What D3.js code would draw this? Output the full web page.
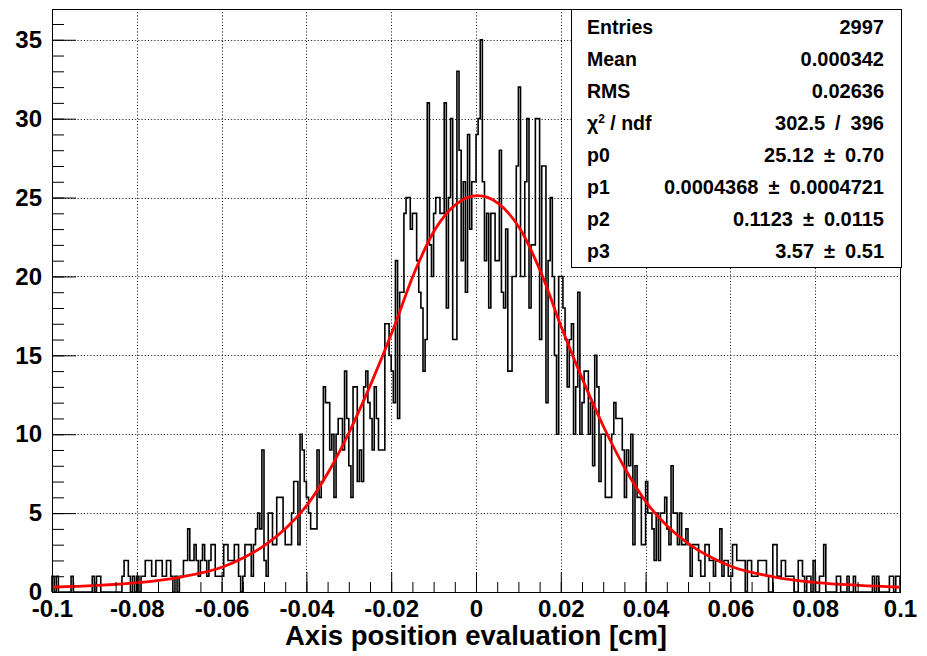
<!DOCTYPE html>
<html>
<head>
<meta charset="utf-8">
<script src="https://cdn.jsdelivr.net/npm/d3@7"></script>
<style>
  body { margin: 0; background: #fff; }
  svg { display: block; }
  text { font-family: "Liberation Sans", Arial, Helvetica, sans-serif; font-weight: bold; fill: #000; }
</style>
</head>
<body>
<svg id="chart" width="927" height="656"></svg>
<script>
// Histogram contents: 400 bins from -0.1 to 0.1 cm (bin width 0.0005)
const counts = [
  1,0,1,0,0,0,0,0,0,1,
  0,0,0,0,0,0,0,0,0,1,
  0,1,1,0,0,0,0,0,0,0,
  0,0,0,1,2,2,1,0,1,0,
  1,0,1,1,2,2,2,1,1,2,
  2,2,1,1,2,2,1,0,1,0,
  1,1,2,2,4,2,2,3,2,1,
  2,3,2,1,2,3,3,1,1,1,
  1,3,3,2,2,2,3,3,1,0,
  1,3,3,3,1,3,4,5,4,9,
  2,1,5,5,3,3,6,6,6,4,
  3,3,3,5,7,7,3,10,9,7,
  6,5,4,4,4,9,6,7,13,12,
  12,9,10,6,10,11,11,9,14,11,
  8,6,13,13,7,9,7,13,14,12,
  11,9,13,11,9,9,9,17,17,15,
  14,12,21,11,19,19,24,25,25,23,
  24,24,21,19,18,14,16,31,22,20,
  24,25,25,24,24,31,18,25,30,16,
  16,33,28,21,26,19,29,23,26,26,
  29,30,35,26,21,24,18,24,24,21,
  21,28,19,18,23,14,14,20,20,27,
  32,20,20,26,30,18,22,22,30,30,
  16,27,27,12,21,25,20,15,10,20,
  20,18,16,13,16,17,10,13,19,10,
  12,14,14,10,12,8,15,13,7,10,
  10,6,6,6,10,12,11,11,11,9,
  6,9,8,10,3,8,6,6,3,3,
  7,5,5,4,2,5,2,5,5,6,
  4,3,8,5,5,3,5,3,3,4,
  3,1,3,3,3,2,1,1,3,3,
  2,2,1,2,2,4,1,2,2,1,
  1,3,3,2,2,2,2,0,2,2,
  1,1,1,2,2,2,2,1,0,0,
  3,3,1,1,2,2,1,1,1,1,
  0,0,2,2,1,0,1,1,0,2,
  0,0,1,1,3,0,0,0,0,0,
  1,1,0,0,0,1,0,0,1,0,
  0,0,0,0,0,0,0,1,0,1,
  0,0,0,0,0,1,1,0,1,1
];
const histRange = [-0.1, 0.1];

// Fitted function, sampled
const fitX = [-0.1, -0.0896, -0.0796, -0.0696, -0.0596, -0.0546, -0.0496, -0.0446, -0.0396, -0.0346,
              -0.0296, -0.0246, -0.0196, -0.0146, -0.0096, -0.0046, 0.0004, 0.0054, 0.0104, 0.0154,
              0.0204, 0.0254, 0.0304, 0.0354, 0.0404, 0.0454, 0.0504, 0.0554, 0.0604, 0.0704,
              0.0804, 0.0904, 0.1];
const fitY = [0.3, 0.42, 0.6, 0.95, 1.6, 2.2, 3.0, 4.1, 5.6, 7.7,
              10.3, 13.3, 16.6, 20.2, 23.0, 24.6, 25.12, 24.6, 23.0, 20.2,
              16.6, 13.3, 10.3, 7.7, 5.6, 4.1, 3.0, 2.2, 1.6, 0.95,
              0.6, 0.42, 0.3];

const xTickValues = [-0.1, -0.08, -0.06, -0.04, -0.02, 0, 0.02, 0.04, 0.06, 0.08, 0.1];
const xTickLabels = ["-0.1", "-0.08", "-0.06", "-0.04", "-0.02", "0", "0.02", "0.04", "0.06", "0.08", "0.1"];
const yTickValues = [0, 5, 10, 15, 20, 25, 30, 35];
const yTickLabels = ["0", "5", "10", "15", "20", "25", "30", "35"];
const xTitle = "Axis position evaluation [cm]";

const statLabels = ["Entries", "Mean", "RMS", "chi2", "p0", "p1", "p2", "p3"];
const statValues = ["2997", "0.000342", "0.02636", "302.5\u2002/\u2002396", "25.12\u2002\u00b1\u20020.70",
                    "0.0004368\u2002\u00b1\u20020.0004721", "0.1123\u2002\u00b1\u20020.0115", "3.57\u2002\u00b1\u20020.51"];

// ---- layout ----
const frame = { l: 52, r: 900, t: 9, b: 592 };
const svg = d3.select("#chart");

const x = d3.scaleLinear().domain(histRange).range([frame.l, frame.r]);
const y = d3.scaleLinear().domain([0, 36.95]).range([frame.b, frame.t]);

const binWidth = (histRange[1] - histRange[0]) / counts.length;

// grid
const grid = svg.append("g").attr("stroke", "#000").attr("stroke-width", 1)
  .attr("stroke-dasharray", "1,2.2");
grid.selectAll("line.gx").data(xTickValues.slice(1, -1)).join("line")
  .attr("x1", d => Math.round(x(d)) + 0.5).attr("x2", d => Math.round(x(d)) + 0.5)
  .attr("y1", frame.t).attr("y2", frame.b);
grid.selectAll("line.gy").data(yTickValues.slice(1)).join("line")
  .attr("y1", d => Math.round(y(d)) + 0.5).attr("y2", d => Math.round(y(d)) + 0.5)
  .attr("x1", frame.l).attr("x2", frame.r);

// histogram outline
const pts = [[histRange[0], 0]];
counts.forEach((c, i) => {
  const lo = histRange[0] + i * binWidth;
  pts.push([lo, c], [lo + binWidth, c]);
});
pts.push([histRange[1], 0]);
const histLine = d3.line().x(d => x(d[0])).y(d => y(d[1]));
svg.append("path").attr("d", histLine(pts))
  .attr("fill", "none").attr("stroke", "#000").attr("stroke-width", 1.6);

// fit curve
const fitLine = d3.line().x((d, i) => x(fitX[i])).y((d, i) => y(fitY[i])).curve(d3.curveMonotoneX);
svg.append("path").attr("d", fitLine(fitX))
  .attr("fill", "none").attr("stroke", "#ff0000").attr("stroke-width", 2.8);

// axes (ticks pointing into the frame)
const xMinor = d3.range(0, 41).map(i => histRange[0] + i * 0.005);
svg.append("g").attr("transform", `translate(0,${frame.b})`)
  .call(d3.axisBottom(x).tickValues(xMinor).tickSize(-10).tickSizeOuter(0).tickFormat(""))
  .call(g => g.select(".domain").remove())
  .call(g => g.selectAll("line").attr("stroke", "#000"));
svg.append("g").attr("transform", `translate(0,${frame.b})`)
  .call(d3.axisBottom(x).tickValues(xTickValues).tickSize(-20).tickSizeOuter(0).tickPadding(8)
    .tickFormat((d, i) => xTickLabels[i]))
  .call(g => g.select(".domain").remove())
  .call(g => g.selectAll("line").attr("stroke", "#000"))
  .call(g => g.selectAll("text").attr("font-size", 24).attr("font-family", null).attr("fill", "#000"));

const yMinor = d3.range(0, 37);
svg.append("g").attr("transform", `translate(${frame.l},0)`)
  .call(d3.axisLeft(y).tickValues(yMinor).tickSize(-12).tickSizeOuter(0).tickFormat(""))
  .call(g => g.select(".domain").remove())
  .call(g => g.selectAll("line").attr("stroke", "#000"));
svg.append("g").attr("transform", `translate(${frame.l},0)`)
  .call(d3.axisLeft(y).tickValues(yTickValues).tickSize(-24).tickSizeOuter(0).tickPadding(10)
    .tickFormat((d, i) => yTickLabels[i]))
  .call(g => g.select(".domain").remove())
  .call(g => g.selectAll("line").attr("stroke", "#000"))
  .call(g => g.selectAll("text").attr("font-size", 24).attr("font-family", null).attr("fill", "#000"));

// frame
svg.append("rect").attr("x", frame.l + 0.5).attr("y", frame.t + 0.5)
  .attr("width", frame.r - frame.l).attr("height", frame.b - frame.t)
  .attr("fill", "none").attr("stroke", "#000").attr("stroke-width", 1);

// axis title
svg.append("text").attr("x", (frame.l + frame.r) / 2).attr("y", 645)
  .attr("text-anchor", "middle").attr("font-size", 27.5).text(xTitle);

// statistics box
const box = { l: 571, r: 901, t: 9, b: 267 };
svg.append("rect").attr("x", box.l + 0.5).attr("y", box.t + 0.5)
  .attr("width", box.r - box.l).attr("height", box.b - box.t)
  .attr("fill", "#fff").attr("stroke", "#000").attr("stroke-width", 1);
const rowY = i => 34 + 32 * i;
statLabels.forEach((lab, i) => {
  const t = svg.append("text").attr("x", 587).attr("y", rowY(i)).attr("font-size", 19.5);
  if (lab === "chi2") {
    t.append("tspan").text("\u03c7");
    t.append("tspan").attr("font-size", 12).attr("dy", -7).text("2");
    t.append("tspan").attr("dy", 7).text(" / ndf");
  } else {
    t.text(lab);
  }
  svg.append("text").attr("x", 884).attr("y", rowY(i)).attr("font-size", 20)
    .attr("text-anchor", "end").text(statValues[i]);
});
</script>
</body>
</html>
